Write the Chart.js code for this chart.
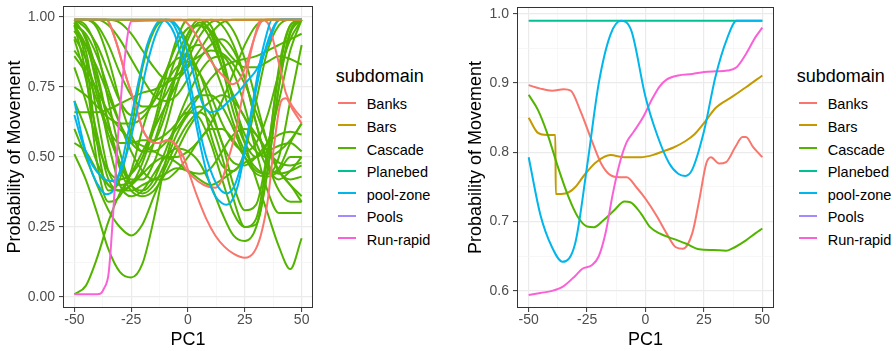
<!DOCTYPE html>
<html>
<head>
<meta charset="utf-8">
<script src="https://cdn.jsdelivr.net/npm/chart.js@4/dist/chart.umd.min.js"></script>
<style>
html,body{margin:0;padding:0;background:#fff;}
body{width:896px;height:351px;position:relative;overflow:hidden;font-family:"Liberation Sans",Arial,sans-serif;}
canvas{position:absolute;top:0;}
#c1{left:0;}
#c2{left:440px;}
.ltitle{position:absolute;font-size:18px;line-height:18px;color:#000;white-space:nowrap;}
.key{position:absolute;width:18px;height:2px;}
.lab{position:absolute;font-size:14.5px;line-height:18px;color:#000;white-space:nowrap;}
</style>
</head>
<body>
<canvas id="c1" width="320" height="351"></canvas>
<canvas id="c2" width="340" height="351"></canvas>
<div id="legends"></div>
<script>
// ---------- categories / colours ----------
const SUBDOMAINS = ["Banks","Bars","Cascade","Planebed","pool-zone","Pools","Run-rapid"];
const COLORS = ["#F8766D","#C49A00","#53B400","#00C094","#00B6EB","#A58AFF","#FB61D7"];

// ---------- tick values / labels ----------
const X_TICKS = [-50,-37.5,-25,-12.5,0,12.5,25,37.5,50];
const X_LABELS = ["-50","","-25","","0","","25","","50"];
const YL_TICKS = [0,0.125,0.25,0.375,0.5,0.625,0.75,0.875,1];
const YL_LABELS = ["0.00","","0.25","","0.50","","0.75","","1.00"];
const YR_TICKS = [0.6,0.65,0.7,0.75,0.8,0.85,0.9,0.95,1.0];
const YR_LABELS = ["0.6","","0.7","","0.8","","0.9","","1.0"];

// ---------- LEFT panel data ----------
const leftX = [-50,-45,-40,-35,-30,-25,-20,-15,-10,-5,0,5,10,15,20,25,30,35,40,45,50];

const leftBarsX = [-50,50];
const leftBarsY = [0.99,0.99];

const leftBanksAX = [-50,-40,-36,-32,-27,-23,-20,-17,-13,-9,-5,-2,1,4,8,12,16,20,25,29,32,35,38,41,43,46,50];
const leftBanksAY = [0.99,0.99,0.99,0.92,0.78,0.68,0.60,0.56,0.55,0.56,0.54,0.50,0.43,0.36,0.28,0.22,0.18,0.155,0.14,0.16,0.22,0.34,0.55,0.70,0.71,0.67,0.62];
const leftBanksBX = [-50,-3,0,4,8,12,16,19.5,23,26,29,32,34,50];
const leftBanksBY = [0.99,0.99,0.975,0.93,0.87,0.82,0.785,0.76,0.78,0.84,0.92,0.98,0.99,0.99];
const leftBanksCX = [-50,-40,-36,-32,-27,-23,-20,-17,-13,-9,-5,-2,2,7,12,15,18,21,24,27,30,32,35,38,41,43,46,50];
const leftBanksCY = [0.99,0.99,0.99,0.92,0.78,0.68,0.60,0.56,0.55,0.56,0.54,0.47,0.43,0.40,0.39,0.42,0.50,0.59,0.72,0.85,0.95,0.99,0.98,0.90,0.80,0.73,0.68,0.64];

const leftPool1X = [-50,-46,-42,-38,-36,-33,-30,-26,-22,-18,-15,-12,-9,-6,-3,0,3,6,9,12,15,17,19,22,25,28,31,34,37,50];
const leftPool1Y = [0.70,0.55,0.44,0.38,0.367,0.38,0.45,0.60,0.76,0.90,0.96,0.99,0.98,0.94,0.86,0.76,0.64,0.52,0.42,0.36,0.335,0.33,0.34,0.40,0.52,0.67,0.81,0.92,0.99,0.99];
const leftPool2X = [-50,-46,-42,-38,-35,-33,-30,-26,-22,-18,-14,-10,-7,-4,-1,2,5,8,11,14,17,20,23,26,29,32,35,38,40,50];
const leftPool2Y = [0.65,0.54,0.47,0.43,0.415,0.414,0.44,0.54,0.68,0.83,0.94,0.99,0.98,0.93,0.84,0.72,0.60,0.50,0.43,0.385,0.37,0.39,0.46,0.57,0.70,0.82,0.91,0.97,0.99,0.99];
const leftPool3X = [-50,-8,-5,-2,1,4,7,10,14,18,22,26,30,33,36,39,41,50];
const leftPool3Y = [0.99,0.99,0.97,0.92,0.84,0.75,0.68,0.66,0.67,0.70,0.73,0.77,0.81,0.86,0.92,0.98,0.99,0.99];

const leftRunX = [-50,-45,-40,-38.5,-37,-35,-34,-33,-32,-31,-30,-29,-28,-27,-26,-25,50];
const leftRunY = [0.01,0.01,0.01,0.012,0.03,0.08,0.17,0.29,0.42,0.55,0.66,0.76,0.84,0.91,0.96,0.985,0.99];

const casL01 = [0.98,0.85,0.55,0.38,0.42,0.60,0.82,0.95,0.99,0.97,0.90,0.75,0.58,0.47,0.45,0.52,0.70,0.88,0.97,0.99,0.99];
const casL02 = [0.97,0.80,0.48,0.34,0.36,0.45,0.60,0.72,0.80,0.85,0.86,0.80,0.68,0.55,0.48,0.47,0.50,0.55,0.58,0.59,0.58];
const casL03 = [0.95,0.88,0.65,0.45,0.40,0.41,0.45,0.55,0.68,0.80,0.92,0.98,0.95,0.85,0.70,0.58,0.52,0.50,0.52,0.56,0.62];
const casL04 = [0.99,0.96,0.90,0.80,0.70,0.65,0.66,0.70,0.76,0.82,0.84,0.80,0.72,0.62,0.55,0.52,0.55,0.65,0.80,0.92,0.99];
const casL05 = [0.93,0.85,0.72,0.60,0.55,0.55,0.56,0.56,0.58,0.62,0.68,0.72,0.72,0.68,0.60,0.50,0.44,0.43,0.45,0.50,0.50];
const casL06 = [0.86,0.80,0.70,0.58,0.48,0.42,0.42,0.48,0.60,0.75,0.88,0.96,0.99,0.97,0.90,0.78,0.62,0.48,0.44,0.45,0.47];
const casL07 = [0.66,0.66,0.66,0.67,0.69,0.71,0.73,0.74,0.76,0.79,0.83,0.86,0.88,0.87,0.83,0.76,0.66,0.55,0.45,0.40,0.34];
const casL08 = [0.51,0.42,0.30,0.17,0.09,0.07,0.12,0.28,0.48,0.62,0.72,0.80,0.85,0.86,0.80,0.68,0.52,0.38,0.30,0.30,0.30];
const casL09 = [0.60,0.50,0.40,0.31,0.25,0.22,0.26,0.36,0.46,0.55,0.62,0.66,0.62,0.50,0.35,0.25,0.26,0.45,0.75,0.95,0.99];
const casL10 = [0.01,0.04,0.14,0.27,0.37,0.44,0.52,0.60,0.68,0.76,0.85,0.93,0.98,0.99,0.95,0.85,0.70,0.55,0.45,0.42,0.43];
const casL11 = [0.99,0.97,0.88,0.70,0.52,0.40,0.37,0.40,0.48,0.58,0.65,0.68,0.65,0.55,0.40,0.31,0.33,0.52,0.80,0.97,0.99];
const casL12 = [0.99,0.92,0.75,0.55,0.40,0.36,0.38,0.44,0.50,0.53,0.52,0.48,0.40,0.30,0.22,0.20,0.25,0.45,0.75,0.94,0.99];
const casL13 = [0.97,0.90,0.78,0.62,0.48,0.40,0.38,0.42,0.52,0.62,0.66,0.64,0.55,0.42,0.30,0.25,0.28,0.50,0.82,0.97,0.99];
const casL14 = [0.92,0.78,0.58,0.42,0.38,0.38,0.40,0.42,0.44,0.46,0.45,0.42,0.40,0.42,0.45,0.48,0.50,0.52,0.54,0.55,0.52];
const casL15 = [0.99,0.99,0.96,0.85,0.70,0.58,0.52,0.55,0.65,0.80,0.94,0.99,0.97,0.86,0.70,0.55,0.42,0.30,0.18,0.10,0.21];
const casL16 = [0.75,0.72,0.68,0.64,0.62,0.62,0.64,0.70,0.80,0.90,0.96,0.97,0.92,0.82,0.72,0.64,0.58,0.52,0.48,0.47,0.48];
const casL17 = [0.99,0.99,0.97,0.90,0.80,0.72,0.68,0.68,0.72,0.80,0.88,0.90,0.85,0.75,0.62,0.52,0.46,0.44,0.46,0.55,0.62];
const casL18 = [0.82,0.70,0.55,0.45,0.42,0.44,0.50,0.62,0.78,0.92,0.99,0.99,0.94,0.82,0.66,0.55,0.50,0.55,0.70,0.88,0.99];
const casL19 = [0.95,0.90,0.82,0.72,0.62,0.55,0.52,0.52,0.55,0.60,0.66,0.72,0.78,0.82,0.84,0.85,0.86,0.88,0.90,0.92,0.94];
const casL20 = [0.98,0.93,0.80,0.62,0.46,0.38,0.36,0.38,0.44,0.52,0.60,0.66,0.70,0.72,0.70,0.64,0.55,0.46,0.42,0.45,0.50];
const casL21 = [0.70,0.60,0.48,0.40,0.38,0.40,0.48,0.60,0.74,0.86,0.94,0.97,0.95,0.90,0.85,0.82,0.82,0.84,0.86,0.85,0.83];
const casL22 = [0.99,0.99,0.99,0.97,0.92,0.85,0.78,0.72,0.70,0.72,0.78,0.85,0.90,0.92,0.88,0.78,0.62,0.48,0.38,0.34,0.34];
const casL23 = [0.88,0.82,0.74,0.66,0.60,0.56,0.54,0.52,0.50,0.50,0.52,0.56,0.62,0.70,0.80,0.90,0.97,0.99,0.99,0.99,0.99];
const casL24 = [0.97,0.94,0.86,0.74,0.62,0.52,0.45,0.42,0.42,0.45,0.50,0.56,0.60,0.60,0.56,0.50,0.45,0.44,0.50,0.70,0.90];
const casL25 = [0.99,0.99,0.99,0.99,0.98,0.94,0.88,0.82,0.78,0.78,0.82,0.88,0.94,0.98,0.99,0.99,0.99,0.99,0.99,0.99,0.99];
const casL26 = [0.55,0.52,0.45,0.40,0.38,0.40,0.44,0.48,0.50,0.48,0.45,0.44,0.46,0.52,0.58,0.60,0.58,0.52,0.45,0.40,0.36];
const leftCascade = [casL01,casL02,casL03,casL04,casL05,casL06,casL07,casL08,casL09,casL10,casL11,casL12,casL13,
                     casL14,casL15,casL16,casL17,casL18,casL19,casL20,casL21,casL22,casL23,casL24,casL25,casL26];

// ---------- RIGHT panel data ----------
const rightBanksX = [-50,-45,-40,-35,-32,-28,-23,-19,-15,-11,-8,-4,0,5,9,13,16,20,23,26,28,31.5,34.5,38.5,41.5,43,46,50];
const rightBanksY = [0.897,0.892,0.889,0.891,0.889,0.861,0.817,0.784,0.767,0.764,0.764,0.750,0.733,0.707,0.683,0.663,0.661,0.683,0.731,0.784,0.793,0.784,0.786,0.808,0.822,0.822,0.808,0.793];
const rightBarsX = [-50,-46,-42,-38.6,-38.4,-36,-33,-30,-26,-21,-15,-9,-2,3,8,12,17,21,25,30,37,43,50];
const rightBarsY = [0.850,0.828,0.825,0.825,0.740,0.740,0.742,0.750,0.768,0.786,0.796,0.793,0.793,0.796,0.802,0.807,0.816,0.826,0.842,0.864,0.880,0.894,0.911];
const rightCascadeX = [-50,-46,-42,-37.5,-33,-29,-25,-22,-18,-13.5,-9,-6.5,-2,2,6,12,17.5,23,29,34.5,37,43,47,50];
const rightCascadeY = [0.883,0.861,0.827,0.779,0.736,0.707,0.693,0.692,0.702,0.716,0.729,0.728,0.712,0.692,0.683,0.675,0.668,0.660,0.659,0.658,0.661,0.673,0.683,0.690];
const rightPlanebedX = [-50,50];
const rightPlanebedY = [0.99,0.99];
const rightPoolX = [-50,-45,-40,-35.5,-30,-25,-20,-15,-10.5,-6,0,5,10,14,17,20,25,30,35,39,42,50];
const rightPoolY = [0.793,0.710,0.663,0.642,0.670,0.780,0.900,0.970,0.990,0.975,0.880,0.825,0.785,0.769,0.766,0.775,0.830,0.910,0.965,0.990,0.990,0.990];
const rightRunX = [-50,-45,-40,-35,-30,-27,-23,-20,-17,-14,-11,-8,-5,-1,3,6,9,14,20,25,30,35,39,43,47,50];
const rightRunY = [0.594,0.597,0.600,0.607,0.622,0.632,0.637,0.650,0.685,0.740,0.785,0.815,0.830,0.851,0.878,0.895,0.905,0.911,0.913,0.916,0.917,0.918,0.923,0.942,0.966,0.980];

// ---------- helpers ----------
const FONT = "'Liberation Sans', Arial, sans-serif";
function pts(xs, ys){ return xs.map((x,i)=>({x:x, y:ys[i]})); }
function line(name, xs, ys, order){
  const c = COLORS[SUBDOMAINS.indexOf(name)];
  return {label:name, data:pts(xs,ys), borderColor:c, backgroundColor:c, borderWidth:2,
          pointRadius:0, pointHoverRadius:0, fill:false, cubicInterpolationMode:'monotone', order:order};
}
const frame = {
  id:'frame',
  afterDatasetsDraw(chart){
    const {ctx, chartArea:a} = chart;
    ctx.save();
    ctx.strokeStyle = '#333333'; ctx.lineWidth = 1;
    ctx.strokeRect(Math.round(a.left)+0.5, Math.round(a.top)+0.5, Math.round(a.right-a.left)-1, Math.round(a.bottom-a.top)-1);
    ctx.restore();
  }
};
function gridFor(labels){
  return {
    color: c => (labels[c.index] ? '#EBEBEB' : '#F4F4F4'),
    lineWidth: c => (labels[c.index] ? 1.2 : 0.7),
    tickColor: c => (labels[c.index] ? '#333333' : 'rgba(0,0,0,0)'),
    tickLength: 4, tickWidth: 1, drawTicks: true
  };
}
function options(pad, yWidth, yTitlePad, yMin, yMax, yTicks, yLabels){
  return {
    responsive:false, animation:false, devicePixelRatio:1,
    layout:{padding:pad},
    plugins:{legend:{display:false}, tooltip:{enabled:false}},
    scales:{
      x:{
        type:'linear', min:-55, max:55,
        afterBuildTicks: s => { s.ticks = X_TICKS.map(v => ({value:v})); },
        afterFit: s => { s.height = 43; s.paddingLeft = 0; s.paddingRight = 0; },
        ticks:{autoSkip:false, maxRotation:0, minRotation:0, padding:0, color:'#4D4D4D',
               font:{family:FONT, size:14}, callback:(v,i) => X_LABELS[i]},
        grid: gridFor(X_LABELS),
        border:{display:false},
        title:{display:true, text:'PC1', color:'#000', font:{family:FONT, size:18}, padding:{top:0, bottom:0}}
      },
      y:{
        type:'linear', min:yMin, max:yMax,
        afterBuildTicks: s => { s.ticks = yTicks.map(v => ({value:v})); },
        afterFit: s => { s.width = yWidth; s.paddingTop = 0; s.paddingBottom = 0; },
        ticks:{autoSkip:false, padding:4, color:'#4D4D4D', font:{family:FONT, size:14},
               callback:(v,i) => yLabels[i]},
        grid: gridFor(yLabels),
        border:{display:false},
        title:{display:true, text:'Probability of Movement', color:'#000', font:{family:FONT, size:18},
               padding:{top:yTitlePad, bottom:0}}
      }
    }
  };
}

// ---------- LEFT chart ----------
const leftSets = [
  line('Bars', leftBarsX, leftBarsY, 0),
  line('Run-rapid', leftRunX, leftRunY, 1),
  line('pool-zone', leftPool1X, leftPool1Y, 1),
  line('pool-zone', leftPool2X, leftPool2Y, 1),
  line('pool-zone', leftPool3X, leftPool3Y, 1),
  line('Banks', leftBanksAX, leftBanksAY, 2),
  line('Banks', leftBanksBX, leftBanksBY, 2),
  line('Banks', leftBanksCX, leftBanksCY, 2)
];
leftCascade.forEach(arr => leftSets.push(line('Cascade', leftX, arr, 3)));

new Chart(document.getElementById('c1'), {
  type:'line',
  data:{datasets:leftSets},
  options: options({left:0, right:7, top:6, bottom:0}, 63, 4, -0.039, 1.039, YL_TICKS, YL_LABELS),
  plugins:[frame]
});

// ---------- RIGHT chart ----------
const rightSets = [
  line('pool-zone', rightPoolX, rightPoolY, 0),
  line('Run-rapid', rightRunX, rightRunY, 1),
  line('Planebed', rightPlanebedX, rightPlanebedY, 2),
  line('Cascade', rightCascadeX, rightCascadeY, 3),
  line('Bars', rightBarsX, rightBarsY, 4),
  line('Banks', rightBanksX, rightBanksY, 5)
];
new Chart(document.getElementById('c2'), {
  type:'line',
  data:{datasets:rightSets},
  options: options({left:0, right:6, top:7, bottom:0}, 77, 25, 0.5753, 1.0098, YR_TICKS, YR_LABELS),
  plugins:[frame]
});

// ---------- legends ----------
function legend(x0){
  const root = document.getElementById('legends');
  const t = document.createElement('div');
  t.className = 'ltitle'; t.textContent = 'subdomain';
  t.style.left = x0 + 'px'; t.style.top = '66.8px';
  root.appendChild(t);
  SUBDOMAINS.forEach((name, i) => {
    const ky = 102.7 + 22.6 * i;
    const k = document.createElement('div');
    k.className = 'key'; k.style.background = COLORS[i];
    k.style.left = (x0 + 2) + 'px'; k.style.top = (ky - 1) + 'px';
    root.appendChild(k);
    const l = document.createElement('div');
    l.className = 'lab'; l.textContent = name;
    l.style.left = (x0 + 31) + 'px'; l.style.top = (ky - 7.4) + 'px';
    root.appendChild(l);
  });
}
legend(335.7);
legend(796.7);
</script>
</body>
</html>
